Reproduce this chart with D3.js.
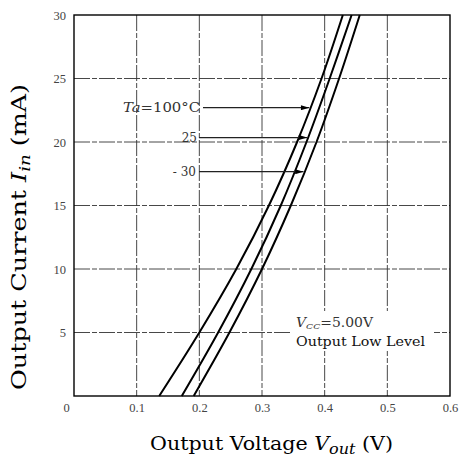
<!DOCTYPE html>
<html>
<head>
<meta charset="utf-8">
<script src="https://cdn.jsdelivr.net/npm/d3@7"></script>
<style>
body { margin: 0; background: #fff; }
svg { font-family: "DejaVu Serif", "Liberation Serif", serif; }
</style>
</head>
<body>
<svg id="graph"></svg>
<script>
var width = 459, height = 456;

// current levels (mA) where the curves were read
var currents = [0, 5, 10, 15, 20, 25, 30];
// output voltage (V) for each temperature
var vHot = [0.136, 0.200, 0.259, 0.311, 0.356, 0.395, 0.429];   // Ta = 100°C
var vRoom = [0.172, 0.230, 0.283, 0.330, 0.371, 0.408, 0.443];  // Ta = 25°C
var vCold = [0.191, 0.248, 0.300, 0.346, 0.387, 0.423, 0.456];  // Ta = -30°C

var xTicks = [0, 0.1, 0.2, 0.3, 0.4, 0.5, 0.6];
var yTicks = [5, 10, 15, 20, 25, 30];

// arrow annotations: label, current level, curve pointed at
var tempLabels = ["100", "25", "-30"];
var arrowLevels = [22.7, 20.35, 17.66];

var svg = d3.select("#graph").attr("width", width).attr("height", height);

var xScale = d3.scaleLinear().domain([0, 0.6]).range([74, 450]);
var yScale = d3.scaleLinear().domain([0, 30]).range([396, 15]);

var plot = svg.append("g");

// grid
plot.selectAll(".vgrid").data(xTicks.slice(1, -1)).enter().append("line")
	.attr("x1", function(d){return xScale(d)})
	.attr("x2", function(d){return xScale(d)})
	.attr("y1", yScale(30)).attr("y2", yScale(0))
	.style("stroke", "#333").style("stroke-width", 0.9)
	.style("stroke-dasharray", "16,2,5,2");
plot.selectAll(".hgrid").data(yTicks.slice(0, -1)).enter().append("line")
	.attr("y1", function(d){return yScale(d)})
	.attr("y2", function(d){return yScale(d)})
	.attr("x1", xScale(0)).attr("x2", xScale(0.6))
	.style("stroke", "#333").style("stroke-width", 0.9)
	.style("stroke-dasharray", "16,2,5,2");

// white box behind the condition note
plot.append("rect")
	.attr("x", 291).attr("y", 311).attr("width", 143).attr("height", 40)
	.style("fill", "#fff");

// frame
plot.append("rect")
	.attr("x", xScale(0)).attr("y", yScale(30))
	.attr("width", xScale(0.6) - xScale(0)).attr("height", yScale(0) - yScale(30))
	.style("fill", "none").style("stroke", "#000").style("stroke-width", 1.4);

// axes
var xAxis = d3.axisBottom(xScale).tickValues(xTicks).tickSize(0).tickPadding(7)
	.tickFormat(function(d){return d === 0 ? "0" : d3.format(".1f")(d)});
var gx = plot.append("g").attr("transform", "translate(0," + yScale(0) + ")").call(xAxis);
gx.select(".domain").remove();
gx.selectAll("text").filter(function(d){return d === 0}).attr("dx", -8);

var yAxis = d3.axisLeft(yScale).tickValues(yTicks).tickSize(0).tickPadding(8);
var gy = plot.append("g").attr("transform", "translate(" + xScale(0) + ",0)").call(yAxis);
gy.select(".domain").remove();

plot.selectAll(".tick text")
	.style("font-family", "Liberation Serif, serif")
	.style("font-size", "12.5px").style("fill", "#444");

// curves
var pathGenerator = d3.line()
	.x(function(d){return xScale(d[0])})
	.y(function(d){return yScale(d[1])})
	.curve(d3.curveCatmullRom);

var series = [vHot, vRoom, vCold];
series.forEach(function(s){
	var pts = s.map(function(v, i){return [v, currents[i]]});
	plot.append("path")
		.datum(pts)
		.attr("d", pathGenerator)
		.style("stroke", "#000").style("stroke-width", 2)
		.style("fill", "none");
});

function voltageAt(s, cur){
	for (var i = 0; i < currents.length - 1; i++){
		if (cur >= currents[i] && cur <= currents[i+1]){
			var t = (cur - currents[i]) / (currents[i+1] - currents[i]);
			return s[i] + t * (s[i+1] - s[i]);
		}
	}
	return s[s.length - 1];
}

// arrows
svg.append("defs").append("marker")
	.attr("id", "arr").attr("viewBox", "0 0 10 6")
	.attr("refX", 10).attr("refY", 3)
	.attr("markerWidth", 10).attr("markerHeight", 5)
	.attr("markerUnits", "userSpaceOnUse")
	.attr("orient", "auto")
	.append("path").attr("d", "M0,0 L10,3 L0,6 Z").style("fill", "#000");

var startX = [203, 199, 199];
tempLabels.forEach(function(lab, i){
	var yy = yScale(arrowLevels[i]);
	var tip = xScale(voltageAt(series[i], arrowLevels[i])) - 1;
	plot.append("line")
		.attr("x1", startX[i]).attr("x2", tip)
		.attr("y1", yy).attr("y2", yy)
		.style("stroke", "#222").style("stroke-width", 1.2)
		.attr("marker-end", "url(#arr)");
});

var tl = plot.append("text").attr("x", 123).attr("y", yScale(arrowLevels[0]) + 4)
	.attr("textLength", 77).attr("lengthAdjust", "spacingAndGlyphs")
	.style("font-size", "12px").style("fill", "#333");
tl.append("tspan").style("font-style", "italic").text("Ta");
tl.append("tspan").text("=" + tempLabels[0] + "°C");

plot.append("text").attr("x", 197).attr("y", yScale(arrowLevels[1]) + 4)
	.attr("text-anchor", "end").style("font-size", "12px").style("fill", "#333")
	.text(tempLabels[1]);
plot.append("text").attr("x", 196).attr("y", yScale(arrowLevels[2]) + 4)
	.attr("text-anchor", "end").style("font-size", "12px").style("fill", "#333")
	.text("- 30");

// condition note
var vc = plot.append("text").attr("x", 296).attr("y", 327)
	.attr("textLength", 77).attr("lengthAdjust", "spacingAndGlyphs")
	.style("font-size", "12px").style("fill", "#333");
vc.append("tspan").style("font-style", "italic").text("V");
vc.append("tspan").style("font-style", "italic").style("font-size", "8px").attr("dy", 2).text("CC");
vc.append("tspan").attr("dy", -2).text("=5.00V");

plot.append("text").attr("x", 296).attr("y", 346)
	.attr("textLength", 129).attr("lengthAdjust", "spacingAndGlyphs")
	.style("font-size", "12.5px").style("fill", "#111")
	.text("Output  Low  Level");

// axis titles
var xt = svg.append("text").attr("x", 150).attr("y", 450)
	.attr("textLength", 243).attr("lengthAdjust", "spacingAndGlyphs")
	.style("font-size", "18px").style("fill", "#000");
xt.append("tspan").text("Output Voltage ");
xt.append("tspan").style("font-style", "italic").text("V");
xt.append("tspan").style("font-style", "italic")
	.style("font-size", "14px").attr("dy", 4).text("out");
xt.append("tspan").attr("dy", -4).text(" (V)");

var yt = svg.append("text")
	.attr("transform", "translate(26,390) rotate(-90)")
	.attr("textLength", 306).attr("lengthAdjust", "spacingAndGlyphs")
	.style("font-size", "21px").style("fill", "#000");
yt.append("tspan").text("Output Current ");
yt.append("tspan").style("font-style", "italic").text("I");
yt.append("tspan").style("font-style", "italic")
	.style("font-size", "15px").attr("dy", 4).text("in");
yt.append("tspan").attr("dy", -4).text(" (mA)");
</script>
</body>
</html>
